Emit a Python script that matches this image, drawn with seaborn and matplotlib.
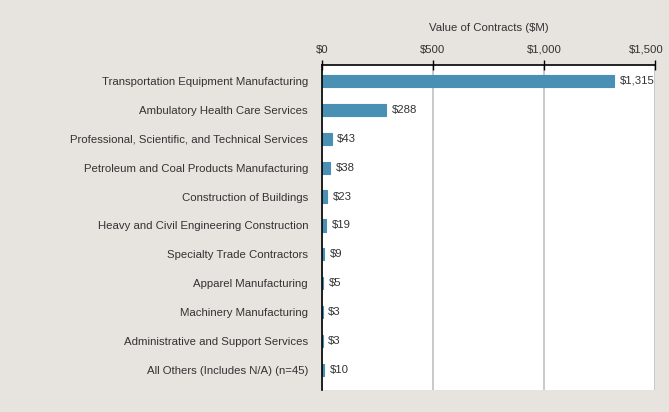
import matplotlib
matplotlib.use("Agg")
import matplotlib.pyplot as plt
import matplotlib.transforms as mtransforms
import seaborn as sns
import pandas as pd

# chart data
industries = [
    "Transportation Equipment Manufacturing",
    "Ambulatory Health Care Services",
    "Professional, Scientific, and Technical Services",
    "Petroleum and Coal Products Manufacturing",
    "Construction of Buildings",
    "Heavy and Civil Engineering Construction",
    "Specialty Trade Contractors",
    "Apparel Manufacturing",
    "Machinery Manufacturing",
    "Administrative and Support Services",
    "All Others (Includes N/A) (n=45)",
]
values = [1315, 288, 43, 38, 23, 19, 9, 5, 3, 3, 10]
tick_values = [0, 500, 1000, 1500]
tick_labels = ["$0", "$500", "$1,000", "$1,500"]

df = pd.DataFrame({"industry": industries, "value": values})

bg = "#e7e3de"
bar_color = "#4a90b5"
text_color = "#333333"
fs = 8.2

sns.set_style("white")
plt.rcParams["font.family"] = ["Liberation Sans Narrow", "Liberation Sans", "DejaVu Sans"]

fig = plt.figure(figsize=(6.69, 4.12), dpi=100, facecolor=bg)
ax = fig.add_axes([0.4813, 0.0534, 0.4977, 0.7888])
ax.set_facecolor("white")

sns.barplot(data=df, x="value", y="industry", orient="h", color=bar_color,
            width=0.42, saturation=1, edgecolor=bar_color, linewidth=0.8, ax=ax)

ax.set_xlim(0, 1500)
ax.set_ylim(10.69, -0.55)

# x axis on top
ax.xaxis.tick_top()
ax.xaxis.set_label_position("top")
ax.set_xticks(tick_values)
ax.set_xticklabels(tick_labels)
ax.set_xlabel("Value of Contracts ($M)", fontsize=fs, color=text_color, labelpad=10)
ax.set_ylabel("")
ax.tick_params(axis="x", direction="inout", length=7, width=1, color="black",
               labelsize=fs, labelcolor=text_color, pad=4)
ax.tick_params(axis="y", length=0, labelsize=fs, labelcolor=text_color, pad=10)

# last tick label sits a little left so it stays inside the figure
last = ax.get_xticklabels()[-1]
last.set_transform(last.get_transform() +
                   mtransforms.ScaledTranslation(-9 / 100, 0, fig.dpi_scale_trans))

ax.grid(axis="x", color="#c0c0c0", linewidth=1.2)
ax.set_axisbelow(True)
for s in ["right", "bottom"]:
    ax.spines[s].set_visible(False)
for s in ["top", "left"]:
    ax.spines[s].set_visible(True)
    ax.spines[s].set_color("black")
    ax.spines[s].set_linewidth(1.2)

# value labels
for i, v in enumerate(values):
    ax.annotate(f"${v:,}", (v, i), xytext=(4, 0), textcoords="offset points",
                va="center", ha="left", fontsize=fs, color=text_color)

fig.savefig("out.png", dpi=100, facecolor=bg)
